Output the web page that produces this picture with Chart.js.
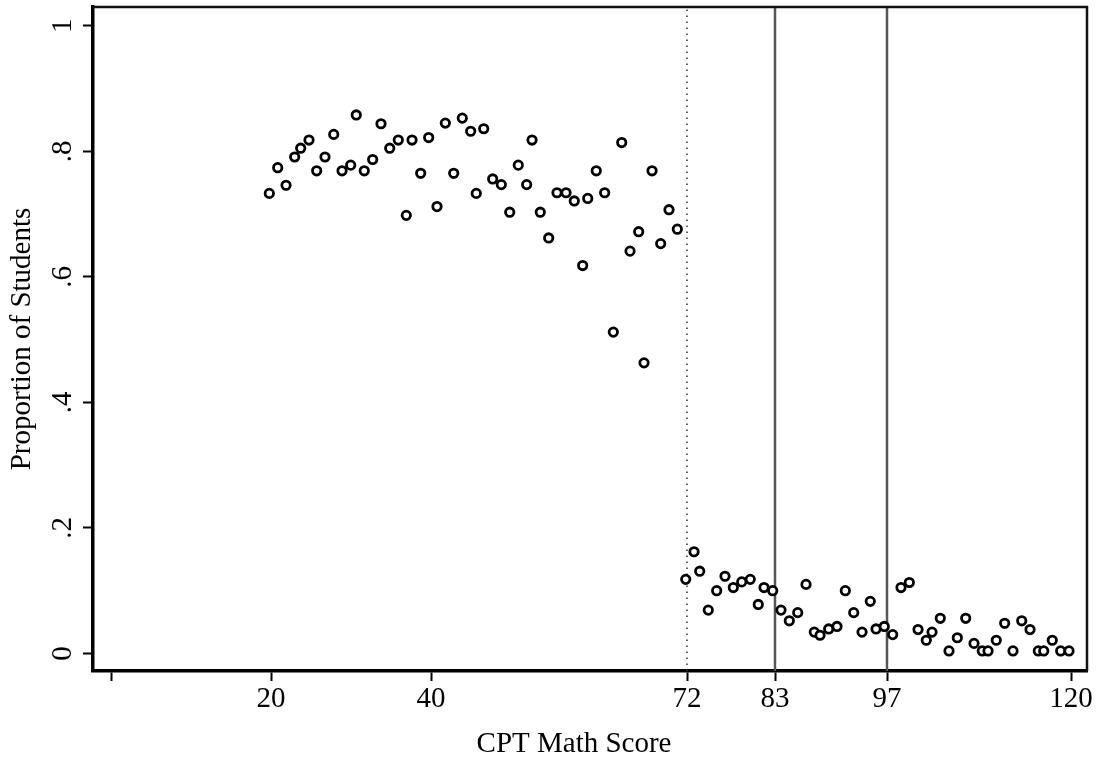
<!DOCTYPE html>
<html>
<head>
<meta charset="utf-8">
<script src="https://cdn.jsdelivr.net/npm/chart.js@4/dist/chart.umd.min.js"></script>
<style>
  html, body { margin: 0; padding: 0; background: #fff; }
  #wrap { position: relative; width: 1097px; height: 759px; }
</style>
</head>
<body>
<div id="wrap"><canvas id="rd_chart"></canvas></div>
<script>
// CPT math score bins and share of students placed in the lower course
const scores = [
  19.79, 20.84, 21.88, 22.96, 23.71, 24.75, 25.71, 26.75, 27.84, 28.88,
  29.96, 30.66, 31.66, 32.71, 33.75, 34.84, 35.91, 36.91, 37.63, 38.71,
  39.71, 40.75, 41.79, 42.84, 43.91, 44.96, 45.66, 46.59, 47.71, 48.79,
  49.84, 50.91, 51.96, 52.63, 53.66, 54.71, 55.75, 56.88, 57.91, 58.96,
  59.59, 60.66, 61.71, 62.79, 63.84, 64.88, 65.96, 66.63, 67.63, 68.71,
  69.75, 70.79,
  71.84, 72.88, 73.59, 74.66, 75.71, 76.75, 77.79, 78.84, 79.91, 80.91,
  81.63, 82.71, 83.75, 84.79, 85.84, 86.88, 87.91, 88.63, 89.71, 90.75,
  91.79, 92.84, 93.88, 94.91, 95.63, 96.66, 97.71, 98.75, 99.79, 100.88,
  101.91, 102.63, 103.66, 104.75, 105.79, 106.84, 107.88, 108.91, 109.63, 110.66,
  111.71, 112.75, 113.84, 114.88, 115.91, 116.59, 117.66, 118.71, 119.75
];
const proportions = [
  0.733, 0.774, 0.746, 0.791, 0.805, 0.818, 0.769, 0.791, 0.827, 0.769,
  0.778, 0.858, 0.769, 0.787, 0.844, 0.805, 0.818, 0.698, 0.818, 0.765,
  0.822, 0.712, 0.845, 0.765, 0.853, 0.832, 0.733, 0.836, 0.756, 0.747,
  0.703, 0.778, 0.747, 0.818, 0.703, 0.662, 0.734, 0.734, 0.721, 0.618,
  0.725, 0.769, 0.734, 0.512, 0.814, 0.641, 0.672, 0.463, 0.769, 0.653,
  0.707, 0.676,
  0.118, 0.162, 0.131, 0.069, 0.100, 0.123, 0.105, 0.114, 0.118, 0.078,
  0.105, 0.100, 0.069, 0.052, 0.065, 0.110, 0.034, 0.029, 0.039, 0.043,
  0.100, 0.065, 0.034, 0.083, 0.039, 0.043, 0.030, 0.105, 0.113, 0.038,
  0.021, 0.034, 0.056, 0.004, 0.025, 0.056, 0.016, 0.004, 0.004, 0.021,
  0.048, 0.004, 0.052, 0.038, 0.004, 0.004, 0.021, 0.004, 0.004
];

const xTicks = [0, 20, 40, 72, 83, 97, 120];
const xTickLabels = ["", "20", "40", "72", "83", "97", "120"];
const yTicks = [0, 0.2, 0.4, 0.6, 0.8, 1];
const yTickLabels = ["0", ".2", ".4", ".6", ".8", "1"];

const cutoff = 72;
const solidLines = [83, 97];

const X_MIN = -2.25, X_MAX = 122;
const Y_MIN = -0.028, Y_MAX = 1.03;
const SERIF = "'Liberation Serif', 'Times New Roman', serif";

const points = scores.map((s, i) => ({ x: s, y: proportions[i] }));

function vline(x) {
  return [{ x: x, y: Y_MIN }, { x: x, y: Y_MAX }];
}

// top/right frame, rotated y tick labels and the x title (Stata style)
const framePlugin = {
  id: "frame",
  afterDraw(chart) {
    const { ctx, chartArea } = chart;
    ctx.save();
    ctx.strokeStyle = "#111";
    ctx.lineWidth = 2.5;
    ctx.beginPath();
    ctx.moveTo(chartArea.left, chartArea.top);
    ctx.lineTo(chartArea.right, chartArea.top);
    ctx.lineTo(chartArea.right, chartArea.bottom);
    ctx.stroke();

    const yScale = chart.scales.y;
    ctx.fillStyle = "#000";
    ctx.font = "29px " + SERIF;
    ctx.textAlign = "center";
    ctx.textBaseline = "alphabetic";
    yTicks.forEach((v, i) => {
      const py = yScale.getPixelForValue(v);
      ctx.save();
      ctx.translate(71, py);
      ctx.rotate(-Math.PI / 2);
      ctx.fillText(yTickLabels[i], 0, 0);
      ctx.restore();
    });

    ctx.textBaseline = "middle";
    ctx.fillText("CPT Math Score", 574, 744);
    ctx.restore();
  },
};

const chartElem = document.getElementById("rd_chart");

new Chart(chartElem, {
  type: "scatter",
  data: {
    datasets: [
      {
        label: "share",
        data: points,
        order: 0,
        pointStyle: "circle",
        pointRadius: 4.2,
        pointBorderWidth: 2.8,
        pointBorderColor: "#000",
        pointBackgroundColor: "#fff",
      },
      {
        type: "line",
        label: "cutoff",
        data: vline(cutoff),
        order: 2,
        borderColor: "#333",
        borderWidth: 1.5,
        borderDash: [1.5, 4.5],
        pointRadius: 0,
        fill: false,
      },
      ...solidLines.map((x) => ({
        type: "line",
        label: "line " + x,
        data: vline(x),
        order: 1,
        borderColor: "#555",
        borderWidth: 2.5,
        pointRadius: 0,
        fill: false,
      })),
    ],
  },
  options: {
    responsive: true,
    maintainAspectRatio: false,
    animation: false,
    layout: { padding: { top: 5, right: 10, left: 0, bottom: 0 } },
    plugins: {
      legend: { display: false },
      tooltip: { enabled: false },
    },
    scales: {
      x: {
        type: "linear",
        position: "bottom",
        min: X_MIN,
        max: X_MAX,
        afterBuildTicks: (scale) => {
          scale.ticks = xTicks.map((v) => ({ value: v }));
        },
        afterFit: (scale) => {
          scale.height = 88;
        },
        ticks: {
          autoSkip: false,
          maxRotation: 0,
          minRotation: 0,
          padding: 1,
          color: "#000",
          font: { family: SERIF, size: 29 },
          callback: (value) => {
            const i = xTicks.indexOf(value);
            return i >= 0 ? xTickLabels[i] : "";
          },
        },
        grid: {
          drawOnChartArea: false,
          drawTicks: true,
          tickLength: 10,
          tickWidth: 2,
          tickColor: "#000",
        },
        border: { display: true, color: "#000", width: 3.5 },
        title: { display: false },
      },
      y: {
        type: "linear",
        position: "left",
        min: Y_MIN,
        max: Y_MAX,
        afterBuildTicks: (scale) => {
          scale.ticks = yTicks.map((v) => ({ value: v }));
        },
        afterFit: (scale) => {
          scale.width = 93;
        },
        ticks: {
          display: false,
        },
        grid: {
          drawOnChartArea: false,
          drawTicks: true,
          tickLength: 10,
          tickWidth: 2,
          tickColor: "#000",
        },
        border: { display: true, color: "#000", width: 3.5 },
        title: {
          display: true,
          text: "Proportion of Students",
          color: "#000",
          font: { family: SERIF, size: 29, lineHeight: 1 },
          padding: { top: 8, bottom: 0 },
        },
      },
    },
  },
  plugins: [framePlugin],
});
</script>
</body>
</html>
